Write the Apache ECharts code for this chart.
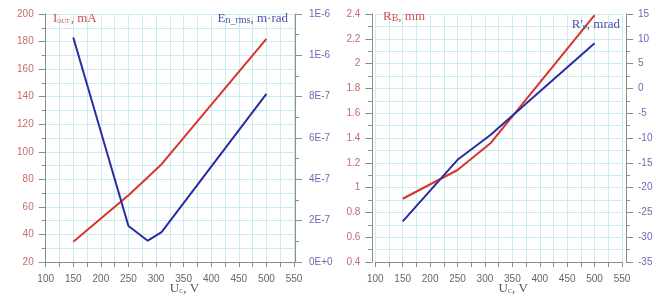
<!DOCTYPE html>
<html><head><meta charset="utf-8">
<script src="https://cdn.jsdelivr.net/npm/echarts@6/dist/echarts.min.js"></script>
<style>html,body{margin:0;padding:0;background:#fff}#c{width:656px;height:297px}</style>
</head><body><div id="c"></div>
<script>
// Left chart
var uLeft = [150, 250, 285, 310, 500];
var iOut = [34.7, 68.5, 81.5, 91, 182];
var enRms = [1.086e-6, 1.74e-7, 1.03e-7, 1.45e-7, 8.14e-7];
var enTickLabels = ['0E+0', '2E-7', '4E-7', '6E-7', '8E-7', '1E-6', '1E-6'];
// Right chart
var uRight = [150, 250, 310, 500];
var rB = [0.91, 1.142, 1.357, 2.39];
var uRight2 = [150, 250, 310, 500];
var rBprime = [-26.8, -14.4, -9.4, 9.1];

function pairs(xs, ys) { return xs.map(function (x, i) { return [x, ys[i]]; }); }

var RED = '#d8342c', BLUE = '#2b2ba3';
var GRID = '#c9ecef';
var AX = '#8c8c8c';

function xAxisDef(gi) {
  return {
    type: 'value', gridIndex: gi, min: 100, max: 550, interval: 50,
    axisLine: { show: true, onZero: false, lineStyle: { color: AX, width: 1 } },
    axisTick: { show: true, inside: false, length: 5, lineStyle: { color: AX } },
    minorTick: { show: true, splitNumber: 2, length: 5, lineStyle: { color: AX } },
    splitLine: { show: true, lineStyle: { color: GRID, width: 1 } },
    minorSplitLine: { show: true, lineStyle: { color: GRID, width: 1 } },
    axisLabel: { color: '#666', fontSize: 10, fontFamily: 'Liberation Sans', margin: 12 }
  };
}
function yAxisDef(gi, pos, min, max, interval, color, extra) {
  var a = {
    type: 'value', gridIndex: gi, position: pos, min: min, max: max, interval: interval,
    axisLine: { show: true, onZero: false, lineStyle: { color: AX, width: 1 } },
    axisTick: { show: true, inside: false, length: 7, lineStyle: { color: AX } },
    minorTick: { show: true, splitNumber: 2, length: 4, lineStyle: { color: AX } },
    splitLine: { show: false },
    axisLabel: { color: color, fontSize: 10, fontFamily: 'Liberation Sans', margin: 12 }
  };
  for (var k in extra) a[k] = extra[k];
  return a;
}

var chart = echarts.init(document.getElementById('c'), null, { renderer: 'canvas' });
var serif = 'Liberation Serif';
chart.setOption({
  animation: false,
  grid: [
    { left: 45.7, top: 14, width: 248.3, height: 248 },
    { left: 375.3, top: 14, width: 246.7, height: 248 }
  ],
  xAxis: [xAxisDef(0), xAxisDef(1)],
  yAxis: [
    (function () {
      var a = yAxisDef(0, 'left', 20, 200, 20, '#c96a6a', {});
      a.splitLine = { show: true, lineStyle: { color: GRID } };
      a.minorSplitLine = { show: true, lineStyle: { color: GRID } };
      return a;
    })(),
    yAxisDef(0, 'right', 0, 1.2e-6, 2e-7, '#6b6bb5', {
      offset: 1,
      axisLabel: {
        color: '#6b6bb5', fontSize: 10, fontFamily: 'Liberation Sans', margin: 14,
        formatter: function (v) { return enTickLabels[Math.round(v / 2e-7)]; }
      }
    }),
    (function () {
      var a = yAxisDef(1, 'left', 0.4, 2.4, 0.2, '#c96a6a', { offset: 3 });
      a.axisLabel.formatter = function (v) { return String(Math.round(v * 10) / 10); };
      a.splitLine = { show: true, lineStyle: { color: GRID } };
      a.minorSplitLine = { show: true, lineStyle: { color: GRID } };
      return a;
    })(),
    yAxisDef(1, 'right', -35, 15, 5, '#6b6bb5', { offset: 4 })
  ],
  series: [
    { type: 'line', xAxisIndex: 0, yAxisIndex: 0, data: pairs(uLeft, iOut), showSymbol: false, symbol: 'none',
      lineStyle: { color: RED, width: 2 }, z: 3 },
    { type: 'line', xAxisIndex: 0, yAxisIndex: 1, data: pairs(uLeft, enRms), showSymbol: false, symbol: 'none',
      lineStyle: { color: BLUE, width: 2 }, z: 4 },
    { type: 'line', xAxisIndex: 1, yAxisIndex: 2, data: pairs(uRight, rB), showSymbol: false, symbol: 'none',
      lineStyle: { color: RED, width: 2 }, z: 3 },
    { type: 'line', xAxisIndex: 1, yAxisIndex: 3, data: pairs(uRight2, rBprime), showSymbol: false, symbol: 'none',
      lineStyle: { color: BLUE, width: 2 }, z: 4 }
  ],
  graphic: [
    { type: 'text', left: 53, top: 12, z: 10, style: {
      text: '{a|I}{s|OUT}{a|, mA}', rich: {
        a: { fontFamily: serif, fontSize: 13, fill: '#cc5050' },
        s: { fontFamily: serif, fontSize: 6, fill: '#cc5050', padding: [6, 1, 0, 0] } } } },
    { type: 'text', right: 656 - 288, top: 12, z: 10, style: {
      text: '{a|E}{s|n_rms}{a|, m·rad}', rich: {
        a: { fontFamily: serif, fontSize: 13, fill: '#5050a8' },
        s: { fontFamily: serif, fontSize: 10, fill: '#5050a8', padding: [4, 0, 0, 0] } } } },
    { type: 'text', left: 383, top: 10, z: 10, style: {
      text: '{a|R}{s|B}{a|, mm}', rich: {
        a: { fontFamily: serif, fontSize: 13, fill: '#d25050' },
        s: { fontFamily: serif, fontSize: 10, fill: '#d25050', padding: [3, 0, 0, 0] } } } },
    { type: 'text', right: 656 - 620, top: 18, z: 10, style: {
      text: "{a|R'}{s|B}{a|, mrad}", rich: {
        a: { fontFamily: serif, fontSize: 13, fill: '#5050a8' },
        s: { fontFamily: serif, fontSize: 6, fill: '#5050a8', padding: [6, 0, 0, 0] } } } },
    { type: 'text', left: 169.8, top: 282, z: 10, style: {
      text: '{a|U}{s|C}{a|, V}', align: 'center', rich: {
        a: { fontFamily: serif, fontSize: 13, fill: '#555' },
        s: { fontFamily: serif, fontSize: 6, fill: '#555', padding: [6, 0, 0, 0] } } } },
    { type: 'text', left: 498.6, top: 282, z: 10, style: {
      text: '{a|U}{s|C}{a|, V}', align: 'center', rich: {
        a: { fontFamily: serif, fontSize: 13, fill: '#555' },
        s: { fontFamily: serif, fontSize: 6, fill: '#555', padding: [6, 0, 0, 0] } } } }
  ]
});
</script></body></html>
